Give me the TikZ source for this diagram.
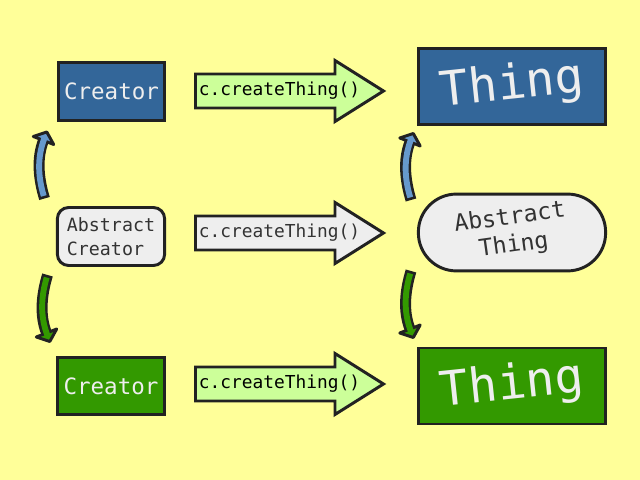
\documentclass[tikz,border=0pt]{standalone}
\usepackage{fontspec}
\setmonofont{DejaVu Sans Mono}
\usepackage{graphicx}
\definecolor{Paper}{HTML}{FFFF99}
\definecolor{Edge}{HTML}{222222}
\definecolor{Steel}{HTML}{336699}
\definecolor{Sky}{HTML}{6699CC}
\definecolor{Leaf}{HTML}{339900}
\definecolor{Lime}{HTML}{CCFF99}
\definecolor{Cloud}{HTML}{EEEEEE}
\definecolor{Graphite}{HTML}{333333}
\tikzset{
  creator/.style={
    draw=Edge, line width=2.1pt, text=Cloud, inner sep=0pt,
    minimum width=2.66cm, minimum height=1.43cm,
    font=\ttfamily\fontsize{16}{19}\selectfont
  },
  abstractbox/.style={
    draw=Edge, line width=2.1pt, fill=Cloud, text=Graphite, inner sep=0pt,
    rounded corners=0.28cm, minimum width=2.68cm, minimum height=1.45cm,
    align=left, font=\ttfamily\fontsize{13}{17}\selectfont
  },
  thing/.style={
    draw=Edge, line width=2.1pt, text=Cloud, inner sep=0pt,
    minimum width=4.68cm, minimum height=1.9cm,
    font=\ttfamily\fontsize{34}{40}\selectfont
  },
  abstractthing/.style={
    draw=Edge, line width=2.1pt, fill=Cloud, text=Graphite, inner sep=0pt,
    rounded corners=0.95cm, minimum width=4.68cm, minimum height=1.92cm,
    font=\ttfamily\fontsize{16.5}{20}\selectfont
  },
  calltext/.style={inner sep=0pt, font=\ttfamily\fontsize{12.7}{15}\selectfont},
  callshape/.style={draw=Edge, line width=2.1pt, line join=miter},
  pics/bentarrow/.style={code={
    \draw[line width=7.8pt, draw=Edge] (0,0) .. controls (-6,20) and (-8,40) .. (-1,58);
    \filldraw[fill=#1, draw=Edge, line width=2.1pt, line join=round]
      (-11.2,62) -- (2.3,66.5) -- (9.2,54) -- cycle;
    \draw[line width=4.2pt, draw=#1, shorten <=1.9pt, shorten >=-2pt]
      (0,0) .. controls (-6,20) and (-8,40) .. (-1,58);
  }}
}

\begin{document}
\begin{tikzpicture}[x=0.025cm,y=0.025cm]
  \fill[Paper] (0,0) rectangle (640,480);

  % left column
  \node[creator,fill=Steel] (topcreator) at (111.5,388.5) {Creator};
  \node[abstractbox] (abscreator) at (111,243.5) {Abstract\\Creator};
  \node[creator,fill=Leaf] (botcreator) at (111,94) {Creator};

  % right column
  \node[thing,fill=Steel] (topthing) at (512,393.5) {\rotatebox{6}{Thing}};
  \node[abstractthing] (absthing) at (512,247.5)
    {\rotatebox{8}{\begin{tabular}{@{}c@{}}Abstract\\Thing\end{tabular}}};
  \node[thing,fill=Leaf] (botthing) at (512,94) {\rotatebox{6}{Thing}};

  % call arrows
  \foreach \row/\col in {389/Lime,247/Cloud,96/Lime}
    \draw[callshape,fill=\col] (195.5,{\row-17}) -- (335,{\row-17}) -- (335,{\row-30.5})
      -- (383.5,\row) -- (335,{\row+30.5}) -- (335,{\row+17}) -- (195.5,{\row+17}) -- cycle;
  \node[calltext] (topcall) at (279.5,389) {c.createThing()};
  \node[calltext,text=Graphite] (abscall) at (279.5,247) {c.createThing()};
  \node[calltext] (botcall) at (279.5,96) {c.createThing()};

  % inheritance arrows
  \coordinate (upleft) at (44.5,281.5);
  \coordinate (upright) at (411,280);
  \coordinate (downleft) at (47.5,205);
  \coordinate (downright) at (411,209);
  \pic at (upleft) {bentarrow=Sky};
  \pic at (upright) {bentarrow=Sky};
  \pic[yscale=-1] at (downleft) {bentarrow=Leaf};
  \pic[yscale=-1] at (downright) {bentarrow=Leaf};
\end{tikzpicture}
\end{document}
